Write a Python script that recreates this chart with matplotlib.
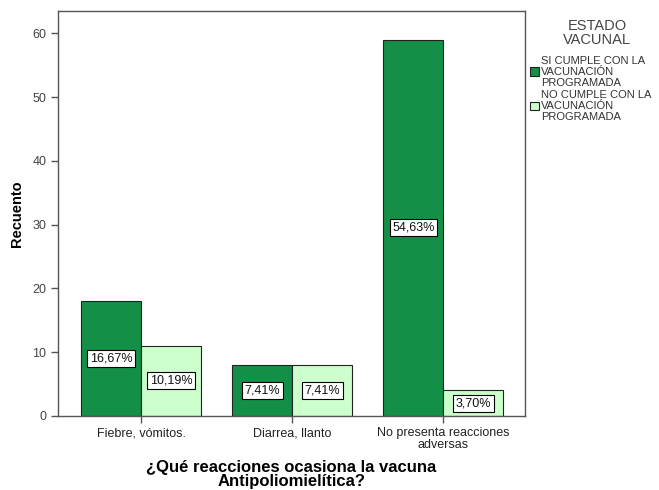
import matplotlib
matplotlib.use("Agg")
import matplotlib.pyplot as plt
import numpy as np

############################
# Data
############################

categorias = ["Fiebre, vómitos.", "Diarrea, llanto", "No presenta reacciones\nadversas"]
si_cumple = [18, 8, 59]
no_cumple = [11, 8, 4]
pct_si = ["16,67%", "7,41%", "54,63%"]
pct_no = ["10,19%", "7,41%", "3,70%"]
series_labels = ["SI CUMPLE CON LA\nVACUNACIÓN\nPROGRAMADA", "NO CUMPLE CON LA\nVACUNACIÓN\nPROGRAMADA"]

############################
# Style
############################

DARK_GREEN = "#148f47"
LIGHT_GREEN = "#ccffcc"
AXIS_GREY = "#555555"

plt.rcParams.update({
    "font.family": ["Liberation Sans", "DejaVu Sans"],
    "font.size": 8,
})

fig = plt.figure(figsize=(6.59, 4.90), dpi=100)
ax = fig.add_axes([58 / 659, 1 - 416 / 490, 467 / 659, 405 / 490])

x = np.arange(len(categorias))
w = 0.397

bars_si = ax.bar(x - w / 2, si_cumple, width=w, color=DARK_GREEN,
                 edgecolor="#222222", linewidth=0.8, label=series_labels[0])
bars_no = ax.bar(x + w / 2, no_cumple, width=w, color=LIGHT_GREEN,
                 edgecolor="#222222", linewidth=0.8, label=series_labels[1])

# percentage boxes in the middle of each bar
for bars, labels in ((bars_si, pct_si), (bars_no, pct_no)):
    for b, txt in zip(bars, labels):
        ax.text(b.get_x() + b.get_width() / 2, b.get_height() / 2, txt,
                ha="center", va="center", fontsize=9, color="#111111",
                bbox=dict(boxstyle="square,pad=0.2", facecolor="white",
                          edgecolor="black", linewidth=0.8))

ax.set_xlim(-0.55, 2.54)
ax.set_ylim(0, 63.5)
ax.set_yticks(range(0, 61, 10))
ax.set_xticks(x)
ax.set_xticklabels(categorias, fontsize=9, color="#222222", linespacing=0.95)
ax.tick_params(axis="y", labelsize=9, labelcolor="#444444", length=5,
               color=AXIS_GREY, width=1)
ax.tick_params(axis="x", length=5, color=AXIS_GREY, width=1, pad=3)

for s in ax.spines.values():
    s.set_color(AXIS_GREY)
    s.set_linewidth(1)

ax.set_ylabel("Recuento", fontsize=10.5, fontweight="bold", labelpad=6)
ax.set_xlabel("¿Qué reacciones ocasiona la vacuna\nAntipoliomielítica?",
              fontsize=12, fontweight="bold", linespacing=0.95)
ax.xaxis.set_label_coords(0.5, -0.108)

# legend on the right
fig.text(597 / 659, 1 - 33 / 490, "ESTADO\nVACUNAL", ha="center", va="center",
         fontsize=10.5, color="#444444", linespacing=0.95)
leg = ax.legend(loc="upper left", bbox_to_anchor=(1.01, 0.89), frameon=False,
                fontsize=8, handlelength=0.85, handleheight=0.85, handletextpad=0.2,
                labelspacing=0.15, borderaxespad=0.0, borderpad=0.0)
for t in leg.get_texts():
    t.set_color("#333333")
    t.set_linespacing(1.15)

fig.savefig("out.png", dpi=100)
